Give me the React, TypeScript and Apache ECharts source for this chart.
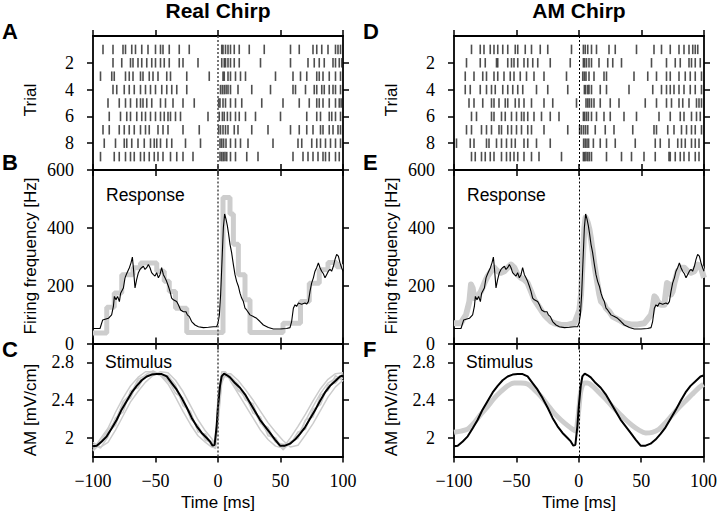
import React, { useEffect, useRef } from 'react';
import * as echarts from 'echarts';

// ---------- tick values ----------
const timeTicks = [-100, -50, 0, 50, 100];
const trialTicks = [2, 4, 6, 8];
const rateTicks = [0, 200, 400, 600];
const amTicks = [2, 2.4, 2.8];

// ---------- raster: spike times [ms] per trial ----------
const rasterReal: number[][] = [
  [-92, -84, -76, -74, -69, -66, -61, -56, -50, -46, -44, -39, -31, -23, 3, 4, 6, 8, 10, 13, 17, 25, 37, 58, 65, 76, 79, 83, 88, 94, 96, 98],
  [-84, -77, -70, -68, -64, -61, -57, -53, -50, -46, -43, -39, -31, -28, -16, 3, 5, 6, 8, 10, 13, 17, 34, 58, 72, 77, 81, 85, 92, 94, 97, 99],
  [-94, -85, -83, -74, -71, -68, -62, -60, -55, -52, -48, -41, -38, -25, -7, 4, 5, 8, 10, 14, 18, 22, 46, 60, 66, 71, 79, 81, 84, 89, 94, 98],
  [-84, -81, -75, -71, -67, -62, -58, -54, -50, -45, -41, -37, -33, -25, 2, 3.5, 5, 6.5, 8, 10, 16, 27, 42, 60, 62, 70, 77, 79, 83, 85, 89, 92, 94, 98],
  [-88, -79, -74, -70, -65, -62, -60, -57, -53, -46, -42, -36, -28, -19, 0.5, 1.6, 4, 6, 10, 14, 19, 35, 52, 65, 73, 79, 81, 84, 89, 94, 97, 98.5],
  [-87, -78, -73, -70, -65, -61, -58, -54, -50, -46, -43, -40, -38, -34, -30, -8, 1, 3.5, 5, 7.5, 10, 14, 17, 22, 30, 50, 71, 79, 82, 89, 91, 94, 98],
  [-92, -87, -79, -75, -71, -67, -62, -58, -55, -48, -44, -40, -28, -15, 0.5, 2, 4, 6, 8, 13, 16, 27, 40, 58, 65, 71, 76, 82, 84, 89, 92, 96, 98],
  [-91, -82, -75, -73, -69, -64, -59, -54, -51, -49, -46, -41, -37, -26, -14, 1.6, 3, 4.5, 6.4, 10, 14, 18, 24, 44, 64, 67, 75, 79, 82, 86, 90, 94, 98],
  [-94, -83, -79, -74, -70, -67, -62, -59, -55, -51, -48, -44, -38, -33, -28, -20, 1.6, 3, 4.3, 5.6, 7, 10, 14, 23, 32, 60, 68, 72, 76, 80, 84, 86, 89, 94, 97],
];

const rasterAM: number[][] = [
  [-86, -79, -76, -71, -68, -65, -61, -57, -51, -49, -43, -38, -31, -25, -6, 3.5, 5, 7, 10, 14, 24, 29, 46, 60, 66, 73, 80, 84, 88, 91, 93, 95],
  [-90, -79, -75, -66, -65, -57, -54, -52, -49, -44, -41, -37, -33, -23, -7, 3.5, 4.5, 6, 8, 10, 16, 23, 27, 34, 58, 70, 77, 81, 88, 90, 93, 97],
  [-91, -84, -77, -74, -68, -65, -60, -55, -52, -47, -42, -36, -28, -10, 3, 4.3, 5.6, 8, 12, 20, 22, 44, 55, 62, 70, 73, 80, 85, 89, 93, 98],
  [-91, -87, -79, -74, -70, -67, -61, -57, -53, -49, -45, -34, -25, -9, 4.3, 5.3, 7, 8, 10, 17, 22, 40, 59, 66, 70, 73, 76, 80, 84, 89, 93, 98],
  [-88, -84, -77, -70, -68, -64, -59, -57, -51, -48, -44, -38, -28, -21, -2, 5.6, 7, 8.3, 10, 12, 17, 25, 32, 53, 62, 70, 74, 80, 83, 88, 94, 96, 98],
  [-86, -82, -70, -68, -62, -59, -54, -50, -46, -44, -41, -36, -30, -23, -16, 3.5, 4.5, 6, 7.5, 10, 14, 20, 25, 36, 46, 64, 73, 81, 84, 90, 94, 97],
  [-90, -86, -78, -74, -70, -64, -62, -57, -54, -50, -46, -41, -38, -28, -9, 0.5, 2, 3.7, 5.3, 7, 13, 21, 28, 43, 60, 62, 71, 76, 82, 86, 90, 93, 98],
  [-98, -87, -84, -74, -72, -66, -62, -58, -54, -51, -44, -41, -34, -23, 3.7, 5, 6.4, 7.7, 11.5, 17, 22, 29, 45, 61, 65, 72, 79, 82, 85, 90, 93, 96],
  [-86, -83, -78, -75, -71, -68, -62, -58, -55, -52, -49, -44, -38, -32, -14, 3.5, 4.5, 5.6, 7, 8.3, 10, 22, 34, 42, 52, 61, 72, 73, 77, 81, 84, 88, 93, 96],
];

// ---------- firing rate [time ms, Hz] ----------
const rateResponse: number[][] = [
  [-100, 52], [-94.4, 52], [-92.3, 81], [-87.7, 87], [-85.1, 99], [-83.7, 128], [-82.9, 163], [-81.6, 151], [-80.3, 163], [-78.9, 145],
  [-77.9, 174], [-75.7, 192], [-74.4, 227], [-73.1, 241], [-70.9, 262], [-69.6, 279], [-68.5, 299], [-67.7, 262], [-66.4, 192], [-65.1, 221],
  [-63.7, 245], [-62.4, 256], [-61.1, 262], [-59.7, 267], [-58.4, 256], [-57.1, 262], [-55.7, 273], [-54.4, 262], [-53.1, 245], [-51.7, 238],
  [-50.4, 233], [-49.1, 245], [-47.7, 227], [-46.4, 238], [-45.1, 262], [-43.7, 238], [-42.4, 227], [-41.1, 215], [-39.7, 198], [-38.4, 180],
  [-37.1, 157], [-35.7, 151], [-33.1, 145], [-31.7, 134], [-29.9, 116], [-27.7, 110], [-25.6, 110], [-24.5, 99], [-22.9, 93], [-21.1, 76],
  [-18.4, 64], [-15.7, 58], [-11.7, 55], [-7.7, 56], [-3.7, 58], [-1.1, 58], [0, 70], [1.1, 99], [2.1, 169], [3.2, 285],
  [4.3, 401], [5.3, 448], [6.4, 430], [7.5, 407], [8.5, 378], [9.6, 343], [10.9, 314], [12.3, 273], [13.6, 238], [14.9, 215],
  [16.3, 198], [17.6, 174], [18.9, 157], [20.3, 145], [21.6, 122], [22.9, 116], [25.6, 99], [28.3, 93], [30.9, 87], [33.6, 76],
  [36.3, 64], [40.3, 55], [44.3, 50], [49.6, 50], [54.9, 52], [57.6, 55], [58.9, 76], [60.3, 122], [61.6, 134], [62.9, 128],
  [64.3, 140], [66.9, 136], [69.6, 140], [70.9, 136], [72.3, 145], [73.6, 180], [74.9, 209], [76.3, 227], [77.6, 250], [78.9, 262],
  [80.3, 279], [81.6, 262], [82.9, 250], [84.3, 241], [85.6, 227], [86.9, 238], [88.3, 250], [89.6, 256], [90.9, 250], [92.3, 267],
  [93.6, 291], [94.9, 308], [96.3, 302], [97.6, 279], [98.9, 262], [100, 250],
];

// binned rate for the real chirp (step, value holds until next edge)
const rateRealBinned: number[][] = [
  [-100, 36], [-89, 125], [-83, 175], [-77, 238], [-68, 262], [-62, 278], [-49, 250], [-43, 215], [-39, 180], [-34, 122],
  [-25, 38], [4, 505], [9.6, 448], [12.3, 343], [16.3, 238], [21.6, 151], [25.6, 38], [52, 70], [66, 145], [73, 208],
  [81, 255], [88, 280], [95, 265], [100, 265],
];

// rate for the AM chirp
const rateAM: number[][] = [
  [-100, 70], [-94.4, 70], [-93.1, 81], [-90.4, 99], [-87.7, 145], [-86.4, 204], [-85.1, 192], [-83.7, 157], [-81.1, 163], [-78.4, 180],
  [-75.7, 209], [-73.1, 233], [-70.4, 250], [-67.7, 262], [-65.1, 250], [-62.4, 245], [-59.7, 250], [-57.1, 262], [-54.4, 273], [-51.7, 262],
  [-49.1, 238], [-46.4, 227], [-43.7, 221], [-41.1, 209], [-38.4, 180], [-35.7, 151], [-33.1, 134], [-30.4, 116], [-27.7, 99], [-25.1, 87],
  [-22.4, 76], [-19.7, 70], [-14.4, 64], [-9.1, 64], [-3.7, 70], [-1.1, 99], [0.3, 116], [1.6, 169], [2.9, 285], [4.3, 401],
  [5.3, 436], [6.9, 419], [8.3, 395], [9.6, 361], [10.9, 320], [12.3, 273], [13.6, 238], [14.9, 204], [16.3, 169], [17.6, 145],
  [18.9, 140], [20.3, 134], [21.6, 122], [24.3, 110], [26.9, 93], [29.6, 87], [32.3, 81], [36.3, 70], [41.6, 66], [46.9, 66],
  [52.3, 70], [57.6, 99], [58.9, 122], [60.3, 163], [61.6, 157], [62.9, 145], [65.6, 134], [68.3, 134], [70.4, 209], [72.3, 204],
  [73.6, 169], [74.9, 180], [76.3, 209], [78.9, 250], [81.6, 262], [84.3, 262], [86.9, 250], [89.6, 245], [92.3, 250], [94.9, 273],
  [97.6, 262], [100, 227],
];

// ---------- stimulus AM [time ms, mV/cm] ----------
const stimMean: number[][] = [
  [-100, 1.908], [-97, 1.915], [-93, 1.96], [-89, 2.014], [-85, 2.1], [-81, 2.19], [-77, 2.3], [-73, 2.39], [-69, 2.48], [-65, 2.55],
  [-61, 2.61], [-57, 2.65], [-53, 2.67], [-49, 2.675], [-45, 2.675], [-41, 2.65], [-37, 2.58], [-33, 2.51], [-29, 2.42], [-25, 2.32],
  [-21, 2.21], [-17, 2.12], [-13, 2.05], [-9, 1.996], [-6.4, 1.96], [-4.3, 1.915], [-2.7, 1.925], [-1.1, 2.12], [0, 2.33], [1.6, 2.55],
  [2.9, 2.65], [4.8, 2.68], [6.9, 2.665], [9.6, 2.64], [13.6, 2.58], [17.6, 2.53], [21.6, 2.46], [25.6, 2.37], [29.6, 2.28], [33.6, 2.19],
  [37.6, 2.12], [41.6, 2.05], [45.6, 1.98], [49.6, 1.915], [53.6, 1.915], [57.6, 1.936], [61.6, 1.98], [65.6, 2.04], [69.6, 2.11], [73.6, 2.2],
  [77.6, 2.29], [81.6, 2.39], [85.6, 2.48], [89.6, 2.55], [93.6, 2.6], [97.6, 2.65], [100, 2.66],
];

const stimTrialTimes = [-100, -94, -88, -82, -76, -70, -64, -58, -52, -46, -40, -34, -28, -22, -16, -10, -5, -2, 0, 3, 6, 10, 16, 22, 28, 34, 40, 46, 52, 58, 64, 70, 76, 82, 88, 94, 100];
const stimTrial1 = [1.87, 1.99, 2.1, 2.27, 2.42, 2.55, 2.64, 2.7, 2.7, 2.66, 2.57, 2.43, 2.28, 2.14, 2.02, 1.95, 1.9, 1.89, 2.4, 2.7, 2.7, 2.6, 2.47, 2.34, 2.21, 2.08, 1.98, 1.91, 1.89, 2.0, 2.12, 2.25, 2.39, 2.52, 2.62, 2.68, 2.69];
const stimTrial2 = [1.95, 1.9, 1.95, 2.08, 2.23, 2.38, 2.49, 2.59, 2.66, 2.7, 2.69, 2.61, 2.49, 2.34, 2.19, 2.07, 1.99, 1.93, 2.15, 2.58, 2.68, 2.68, 2.61, 2.51, 2.4, 2.28, 2.16, 2.06, 1.97, 1.9, 1.92, 2.03, 2.15, 2.29, 2.43, 2.54, 2.61];
const stimTrial3 = [1.86, 1.94, 2.06, 2.13, 2.36, 2.42, 2.6, 2.64, 2.69, 2.66, 2.62, 2.47, 2.42, 2.2, 2.13, 1.97, 1.96, 1.88, 2.28, 2.66, 2.65, 2.63, 2.5, 2.45, 2.26, 2.22, 2.02, 2.0, 1.87, 1.96, 1.99, 2.19, 2.22, 2.45, 2.5, 2.66, 2.6];
const stimTrial4 = [1.93, 1.89, 2.01, 2.21, 2.27, 2.5, 2.53, 2.67, 2.71, 2.67, 2.66, 2.56, 2.34, 2.28, 2.06, 2.04, 1.91, 1.92, 2.22, 2.61, 2.69, 2.65, 2.57, 2.4, 2.36, 2.15, 2.11, 1.95, 1.93, 1.93, 2.06, 2.09, 2.3, 2.35, 2.56, 2.58, 2.68];
const stimTrial5 = [1.89, 1.96, 2.08, 2.18, 2.38, 2.46, 2.62, 2.66, 2.68, 2.68, 2.6, 2.52, 2.37, 2.25, 2.09, 1.99, 1.93, 1.91, 2.45, 2.63, 2.66, 2.64, 2.52, 2.42, 2.3, 2.16, 2.05, 1.96, 1.88, 1.94, 2.02, 2.18, 2.33, 2.47, 2.58, 2.63, 2.63];
const stimTrials = [stimTrial1, stimTrial2, stimTrial3, stimTrial4, stimTrial5];

const stimAM: number[][] = [
  [-100, 2.057], [-94.4, 2.07], [-89.1, 2.09], [-83.7, 2.16], [-78.4, 2.25], [-73.1, 2.33], [-67.7, 2.42], [-62.4, 2.49], [-57.1, 2.55], [-51.7, 2.58],
  [-46.4, 2.58], [-41.1, 2.57], [-35.7, 2.51], [-30.4, 2.44], [-25.1, 2.35], [-19.7, 2.26], [-14.4, 2.19], [-9.1, 2.13], [-5.1, 2.09], [-2.4, 2.07],
  [-1.1, 2.16], [0.3, 2.33], [1.6, 2.49], [4.3, 2.58], [6.9, 2.58], [10.9, 2.55], [16.3, 2.48], [21.6, 2.41], [26.9, 2.33], [32.3, 2.26],
  [37.6, 2.19], [42.9, 2.13], [48.3, 2.08], [53.6, 2.05], [58.9, 2.057], [64.3, 2.09], [69.6, 2.16], [74.9, 2.24], [80.3, 2.32], [85.6, 2.39],
  [90.9, 2.46], [96.3, 2.53], [100, 2.565],
];

// ---------- layout ----------
const colLeft = [93, 454];
const plotW = 250;
const rowTop = [36, 170, 343.5];
const rowH = [134, 173.5, 113];

const SANS = '"Liberation Sans", Arial, sans-serif';
const SERIF = '"Liberation Serif", "Times New Roman", serif';

function fmtMinus(v: number) {
  return v < 0 ? '\u2212' + Math.abs(v) : String(v);
}

function buildOption() {
  const grid: any[] = [];
  const xAxis: any[] = [];
  const yAxis: any[] = [];
  const series: any[] = [];
  const axLine = { show: true, onZero: false, lineStyle: { color: '#000', width: 1.8 } };
  const tickStyle = { color: '#000', width: 1.5 };

  for (let c = 0; c < 2; c++) {
    for (let r = 0; r < 3; r++) {
      const g = c * 3 + r;
      grid.push({ left: colLeft[c], top: rowTop[r], width: plotW, height: rowH[r], containLabel: false });
      const xBase = {
        type: 'value', gridIndex: g, min: -100, max: 100, interval: 50,
        axisLine: axLine, splitLine: { show: false },
        axisTick: { show: true, inside: false, length: 6, lineStyle: tickStyle, customValues: timeTicks },
      };
      xAxis.push({
        ...xBase, position: 'bottom',
        axisLabel: r === 2
          ? { show: true, margin: 15, fontFamily: SERIF, fontSize: 18, color: '#000', formatter: fmtMinus, customValues: timeTicks }
          : { show: false },
      });
      xAxis.push({ ...xBase, position: 'top', axisLabel: { show: false } });

      let yb: any;
      if (r === 0) {
        yb = { min: 0, max: 10, inverse: true, interval: 2, ticks: trialTicks };
      } else if (r === 1) {
        yb = { min: 0, max: 600, interval: 200, ticks: rateTicks };
      } else {
        yb = { min: 1.8, max: 3.0, interval: 0.2, ticks: amTicks };
      }
      const yBase = {
        type: 'value', gridIndex: g, min: yb.min, max: yb.max, interval: yb.interval, inverse: !!yb.inverse,
        axisLine: axLine, splitLine: { show: false },
        axisTick: { show: true, inside: false, length: 6, lineStyle: tickStyle, customValues: yb.ticks },
      };
      yAxis.push({
        ...yBase, position: 'left',
        axisLabel: { show: true, margin: 19, fontFamily: SERIF, fontSize: 18, color: '#000', customValues: yb.ticks, formatter: (v: number) => String(v) },
      });
      yAxis.push({ ...yBase, position: 'right', axisLabel: { show: false } });

      const xi = 2 * g;
      const yi = 2 * g;
      const markLine = {
        silent: true, symbol: ['none', 'none'], label: { show: false }, animation: false,
        lineStyle: c === 0 ? { color: '#555', width: 1.6, type: [2, 2] } : { color: '#000', width: 1, type: [2, 2] },
        data: [{ xAxis: 0 }],
      };

      if (r === 0) {
        const raster = c === 0 ? rasterReal : rasterAM;
        const pts: number[][] = [];
        raster.forEach((row, i) => row.forEach((t) => pts.push([t, i + 1])));
        series.push({
          type: 'scatter', xAxisIndex: xi, yAxisIndex: yi, data: pts,
          symbol: 'rect', symbolSize: [1.6, 9.5], itemStyle: { color: '#222' },
          silent: true, markLine,
        });
      } else if (r === 1) {
        if (c === 0) {
          series.push({
            type: 'line', xAxisIndex: xi, yAxisIndex: yi, data: rateRealBinned, step: 'end',
            showSymbol: false, symbol: 'none', lineStyle: { color: '#cdcdcd', width: 5 }, silent: true,
          });
        } else {
          series.push({
            type: 'line', xAxisIndex: xi, yAxisIndex: yi, data: rateAM,
            showSymbol: false, symbol: 'none', lineStyle: { color: '#cdcdcd', width: 6, join: 'round' }, silent: true,
          });
        }
        series.push({
          type: 'line', xAxisIndex: xi, yAxisIndex: yi, data: rateResponse,
          showSymbol: false, symbol: 'none', lineStyle: { color: '#000', width: 1.1 }, silent: true, markLine,
        });
      } else {
        if (c === 0) {
          stimTrials.forEach((vals) => {
            series.push({
              type: 'line', xAxisIndex: xi, yAxisIndex: yi,
              data: stimTrialTimes.map((t, k) => [t, vals[k]]),
              showSymbol: false, symbol: 'none', lineStyle: { color: '#cccccc', width: 1.5 }, silent: true,
            });
          });
        } else {
          series.push({
            type: 'line', xAxisIndex: xi, yAxisIndex: yi, data: stimAM, smooth: 0.3,
            showSymbol: false, symbol: 'none', lineStyle: { color: '#cdcdcd', width: 5 }, silent: true,
          });
        }
        series.push({
          type: 'line', xAxisIndex: xi, yAxisIndex: yi, data: stimMean,
          showSymbol: false, symbol: 'none', lineStyle: { color: '#000', width: 2 }, silent: true, markLine,
        });
      }
    }
  }

  const graphic: any[] = [];
  const txt = (text: string, x: number, y: number, size: number, opts: any = {}) => ({
    type: 'text', x, y, rotation: opts.rotation || 0, silent: true,
    style: {
      text, fill: '#000', fontFamily: SANS, fontSize: size, fontWeight: opts.bold ? 'bold' : 'normal',
      align: opts.align || 'center', verticalAlign: 'middle',
    },
  });
  const titles = ['Real Chirp', 'AM Chirp'];
  const letters = [['A', 'B', 'C'], ['D', 'E', 'F']];
  const letterY = [31, 162, 349];
  for (let c = 0; c < 2; c++) {
    const dx = colLeft[c] - colLeft[0];
    graphic.push(txt(titles[c], colLeft[c] + plotW / 2, 10, 21, { bold: true }));
    for (let r = 0; r < 3; r++) {
      graphic.push(txt(letters[c][r], 2 + dx, letterY[r], 22, { bold: true, align: 'left' }));
    }
    graphic.push(txt('Trial', 30 + dx, 100, 17, { rotation: Math.PI / 2 }));
    graphic.push(txt('Firing frequency [Hz]', 30 + dx, 256, 17, { rotation: Math.PI / 2 }));
    graphic.push(txt('AM [mV/cm]', 30 + dx, 410, 17, { rotation: Math.PI / 2 }));
    graphic.push(txt('Time [ms]', colLeft[c] + plotW / 2, 502, 17));
    graphic.push(txt('Response', 106 + dx, 195, 17.5, { align: 'left' }));
    graphic.push(txt('Stimulus', 105 + dx, 362, 17.5, { align: 'left' }));
  }

  return {
    animation: false,
    backgroundColor: '#fff',
    textStyle: { fontFamily: SERIF },
    grid, xAxis, yAxis, series, graphic,
  };
}

export default function App() {
  const ref = useRef<HTMLDivElement>(null);
  useEffect(() => {
    if (!ref.current) return;
    const chart = echarts.init(ref.current, null, { renderer: 'svg' });
    chart.setOption(buildOption() as any);
    return () => chart.dispose();
  }, []);
  return (
    <div
      ref={ref}
      style={{ position: 'fixed', left: 0, top: 0, width: 720, height: 517, background: '#fff' }}
    />
  );
}
